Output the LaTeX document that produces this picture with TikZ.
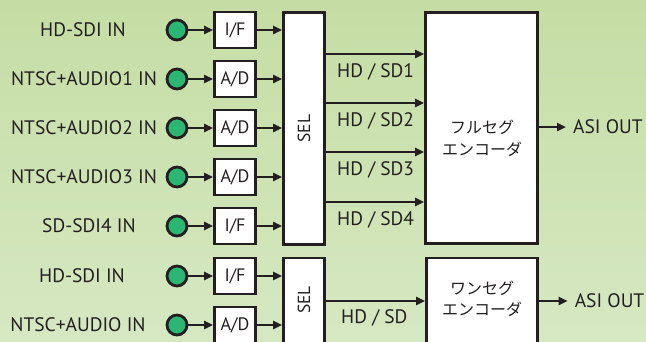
\documentclass[tikz,border=0pt]{standalone}
\usepackage{fontspec}
\setmainfont{PT Sans}
\newfontfamily\jpfont{Noto Sans CJK JP}
\usetikzlibrary{arrows.meta}
\definecolor{ink}{HTML}{231F20}
\definecolor{jack}{HTML}{2BB673}
\definecolor{bgtop}{HTML}{C5DDA4}
\definecolor{bgbot}{HTML}{D6E8C2}
\begin{document}
\begin{tikzpicture}[x=1pt,y=-1pt,
  box/.style={draw=ink, line width=2.8pt, fill=white, inner sep=0pt},
  smallbox/.style={box, minimum width=41pt, minimum height=36pt, font=\fontsize{18}{19}\selectfont, text=ink},
  jackn/.style={circle, draw=ink, line width=2.8pt, fill=jack, minimum size=20pt, inner sep=0pt},
  arr/.style={draw=ink, line width=2.5pt, -{Triangle[length=9pt,width=8pt]}},
  lbl/.style={inner sep=0pt, text=ink, font=\fontsize{19.5}{21}\selectfont},
  jlbl/.style={inner sep=0pt, text=ink, font=\jpfont\fontsize{16}{18}\selectfont}]
\clip (0,0) rectangle (646,341);
\shade[top color=bgtop, bottom color=bgbot] (0,0) rectangle (646,341);

% input labels
\node[lbl] (l1) at (83,30) {HD-SDI IN};
\node[lbl] (l2) at (84,79) {NTSC+AUDIO1 IN};
\node[lbl] (l3) at (84,128) {NTSC+AUDIO2 IN};
\node[lbl] (l4) at (84,177) {NTSC+AUDIO3 IN};
\node[lbl] (l5) at (89,226) {SD-SDI4 IN};
\node[lbl] (l6) at (82,276) {HD-SDI IN};
\node[lbl] (l7) at (78,325) {NTSC+AUDIO IN};

% jacks
\foreach \i/\y in {1/30,2/79,3/128,4/177,5/226,6/276,7/325}
  \node[jackn] (c\i) at (177,\y) {};

% small boxes
\node[smallbox] (b1) at (235,30) {I/F};
\node[smallbox] (b2) at (235,79) {A/D};
\node[smallbox] (b3) at (235,128) {A/D};
\node[smallbox] (b4) at (235,177) {A/D};
\node[smallbox] (b5) at (235,226) {I/F};
\node[smallbox] (b6) at (235,276) {I/F};
\node[smallbox] (b7) at (235,325) {A/D};

% selectors
\node[box, minimum width=41pt, minimum height=232pt] (sel1) at (304,128.5) {};
\node[lbl, rotate=90, font=\fontsize{17.5}{19}\selectfont] (s1t) at (sel1) {SEL};
\node[box, minimum width=41pt, minimum height=122pt] (sel2) at (304,319) {};
\node[lbl, rotate=90, font=\fontsize{17.5}{19}\selectfont] (s2t) at (304,300) {SEL};

% encoders
\node[box, minimum width=112pt, minimum height=231pt] (enc1) at (481.5,128) {};
\node[jlbl] (e1a) at (482,127) {フルセグ};
\node[jlbl] (e1b) at (482,149) {エンコーダ};
\node[box, minimum width=111pt, minimum height=122pt] (enc2) at (482,319) {};
\node[jlbl] (e2a) at (482,288) {ワンセグ};
\node[jlbl] (e2b) at (482,309) {エンコーダ};

% arrows jack -> box -> sel
\foreach \i in {1,...,5} {
  \draw[arr] (c\i) -- (b\i);
  \draw[arr] (b\i.east) -- (b\i.east -| sel1.west);
}
\foreach \i in {6,7} {
  \draw[arr] (c\i) -- (b\i);
  \draw[arr] (b\i.east) -- (b\i.east -| sel2.west);
}

% sel -> encoder
\foreach \y/\t in {54/1,103/2,152/3,202/4} {
  \draw[arr] (sel1.east |- 0,\y) -- (enc1.west |- 0,\y);
  \node[lbl, anchor=west] (hd\t) at (337,\y+18) {HD / SD\t};
}
\draw[arr] (sel2.east |- 0,301) -- (enc2.west |- 0,301);
\node[lbl, anchor=west] (hd) at (341,318) {HD / SD};

% outputs
\node[lbl, anchor=west] (o1) at (573,127) {ASI OUT};
\node[lbl, anchor=east] (o2) at (644.5,301) {ASI OUT};
\draw[arr, shorten >=7pt] (enc1.east |- o1.west) -- (o1.west);
\draw[arr, shorten >=7pt] (enc2.east |- o2.west) -- (o2.west);
\end{tikzpicture}
\end{document}
